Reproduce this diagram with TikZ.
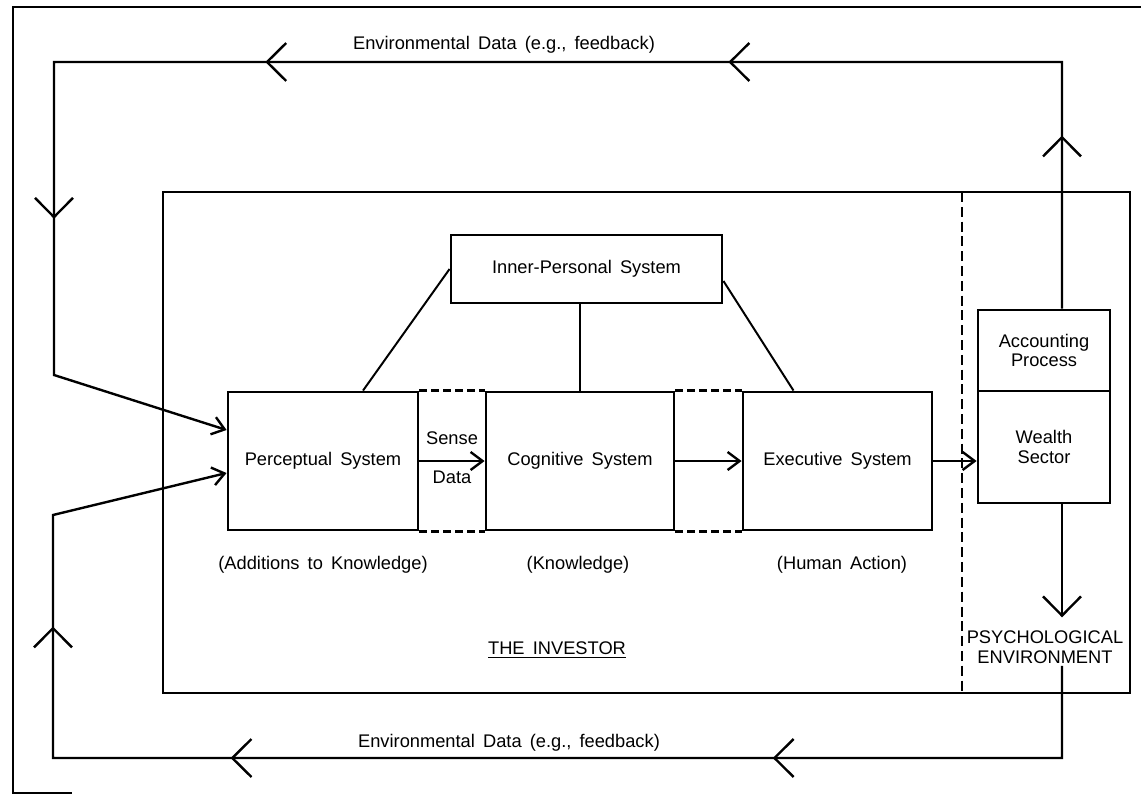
\documentclass[tikz,border=0pt]{standalone}
\usepackage{fontspec}
\setmainfont{Liberation Sans}[WordSpace=1.6]
\usetikzlibrary{arrows.meta,decorations.markings}

\begin{document}
\begin{tikzpicture}[x=0.025cm,y=-0.025cm,line join=miter,>={Straight Barb[length=0.3cm,width=0.45cm]},line width=1.7pt]
	\tikzset{every node/.style={font=\fontsize{13}{14}\selectfont}}
	\tikzset{sys/.style={draw,line width=2pt,minimum height=3.45cm,minimum width=4.75cm}}
	\tikzset{link/.style={line width=1.6pt,dash pattern=on 0.2cm off 0.1cm}}
	\tikzset{chev/.tip={Straight Barb[length=0.48cm,width=0.95cm]}}
	\useasboundingbox (0,0) rectangle (1141,794);
	% outer frame and the investor
	\draw (1141,7)--(13,7)--(13,793)--(72,793);
	\draw[line width=2pt] (163,192) rectangle (1130,693);
	\draw[line width=1.6pt,dash pattern=on 0.25cm off 0.12cm] (962,192)--(962,693);
	% systems
	\node[sys] (perc) at (323,461) {Perceptual System};
	\node[sys,minimum width=4.7cm] (cogn) at (580,461) {Cognitive System};
	\node[sys,minimum width=4.725cm] (exec) at (837.5,461) {Executive System};
	\node[sys,minimum width=6.775cm,minimum height=1.7cm] (inner) at (586.5,269) {Inner-Personal System};
	\node[sys,minimum width=3.3cm,minimum height=2.025cm,align=center] (acc) at (1044,350.5) {Accounting\\Process};
	\node[sys,minimum width=3.3cm,minimum height=2.8cm,align=center] (wealth) at (1044,447) {Wealth\\Sector};
	\node[align=center,inner sep=1pt] (psych) at (1045,647) {PSYCHOLOGICAL\\ENVIRONMENT};
	\draw[line width=1.4pt] (inner.west)--([xshift=1cm]perc.north);
	\draw[line width=1.4pt] (inner.south -| cogn.north)--(cogn.north);
	\draw[line width=1.4pt] ([yshift=-0.3cm]inner.east)--([xshift=-1.1cm]exec.north);
	\foreach \a/\b in {perc/cogn,cogn/exec}{
		\draw[link] (\a.north east)--(\b.north west);
		\draw[link] (\a.south east)--(\b.south west);
	}
	\draw[->] (perc.east)--(cogn.west)
		node[midway,above=0.25cm] (sense) {Sense}
		node[midway,below=0.1cm] (data) {Data};
	\draw[->] (cogn.east)--(exec.west);
	\draw[->] (exec.east)--(exec.east -| wealth.west);
	% environmental data loops
	\coordinate (ctr) at (1062,62);
	\coordinate (ctl) at (54,62);
	\coordinate (cul) at (54,375);
	\coordinate (cll) at (53,515);
	\coordinate (cbl) at (53,758);
	\coordinate (cbr) at (1062,758);
	\draw[->,decoration={markings,
			mark=at position 4.325cm with {\arrow{chev}},
			mark=at position 14.5cm with {\arrow{chev}},
			mark=at position 26.075cm with {\arrow{chev}},
			mark=at position 35.275cm with {\arrow{chev}}},postaction={decorate}]
		(ctr |- acc.north)--(ctr)--(ctl)--(cul)--([yshift=0.775cm]perc.west);
	\draw[-chev,shorten >=0.27cm] (ctr |- wealth.south)--(ctr |- psych.north);
	\draw[->,decoration={markings,
			mark=at position -28.525cm with {\arrow{chev}},
			mark=at position -14.975cm with {\arrow{chev}},
			mark=at position -7.25cm with {\arrow{chev}}},postaction={decorate}]
		(ctr |- psych.south)--(cbr)--(cbl)--(cll)--([yshift=-0.3cm]perc.west);
	\path
	(504,45) node (ttop) {Environmental Data (e.g., feedback)}
	(509,743) node (tbot) {Environmental Data (e.g., feedback)}
	(557,650) node (inv) {\underline{THE INVESTOR}}
	;
	\foreach \n/\x/\t in {perc/323/{(Additions to Knowledge)},cogn/578/{(Knowledge)},exec/842/{(Human Action)}}{
		\node (\n-lab) at (\x,565) {\t};
	}
\end{tikzpicture}
\end{document}
